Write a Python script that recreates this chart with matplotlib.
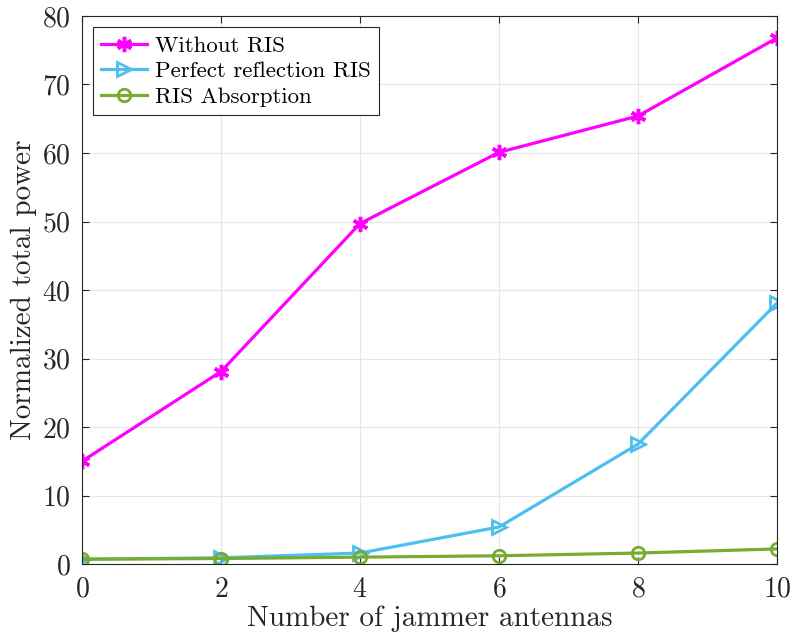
import numpy as np
import matplotlib.pyplot as plt
plt.switch_backend('agg')

plt.rcParams['font.family'] = 'cmr10'
plt.rcParams['mathtext.fontset'] = 'cm'
plt.rcParams['axes.formatter.use_mathtext'] = True

antennas = [0, 2, 4, 6, 8, 10]
without_ris = [15.0, 28.1, 49.7, 60.1, 65.4, 76.8]
perfect_reflection = [0.7, 0.9, 1.6, 5.4, 17.5, 38.1]
ris_absorption = [0.7, 0.8, 1.0, 1.2, 1.6, 2.2]

fig = plt.figure(figsize=(7.9, 6.36), dpi=100)
# axes box: x 82..777, y 16..564 px
ax = fig.add_axes([82 / 790, 72 / 636, 695 / 790, 548 / 636])

ax.plot(antennas, without_ris, color='#FF00FF', lw=2.3, marker=(6, 2, 0),
        ms=11, mew=2.5, label='Without RIS')
ax.plot(antennas, perfect_reflection, color='#4DBEEE', lw=2.3, marker='>',
        ms=10, mew=2, fillstyle='none', label='Perfect reflection RIS')
ax.plot(antennas, ris_absorption, color='#77AC30', lw=2.3, marker='o',
        ms=9, mew=2, fillstyle='none', label='RIS Absorption')

ax.set_xlim(0, 10)
ax.set_ylim(0, 80)
ax.set_xticks(range(0, 11, 2))
ax.set_yticks(range(0, 81, 10))
ax.grid(True, color='#e6e6e6', lw=0.8)
ax.set_axisbelow(True)
ax.tick_params(direction='in', top=True, right=True, labelsize=20,
               length=5, color='#262626', labelcolor='#262626')
ax.tick_params(axis='x', pad=9)
ax.tick_params(axis='y', pad=8)
for s in ax.spines.values():
    s.set_color('#262626')
    s.set_linewidth(0.8)

ax.set_xlabel('Number of jammer antennas', fontsize=21, color='#262626',
              labelpad=2)
ax.set_ylabel('Normalized total power', fontsize=21, color='#262626',
              labelpad=4)

leg = ax.legend(loc='upper left', fontsize=16.5, frameon=True, fancybox=False,
                edgecolor='#262626', handlelength=2.0, borderpad=0.35,
                labelspacing=0.25, handletextpad=0.35, borderaxespad=0.5,
                framealpha=1)
leg.get_frame().set_linewidth(0.8)

plt.savefig('out.png', format='png')
